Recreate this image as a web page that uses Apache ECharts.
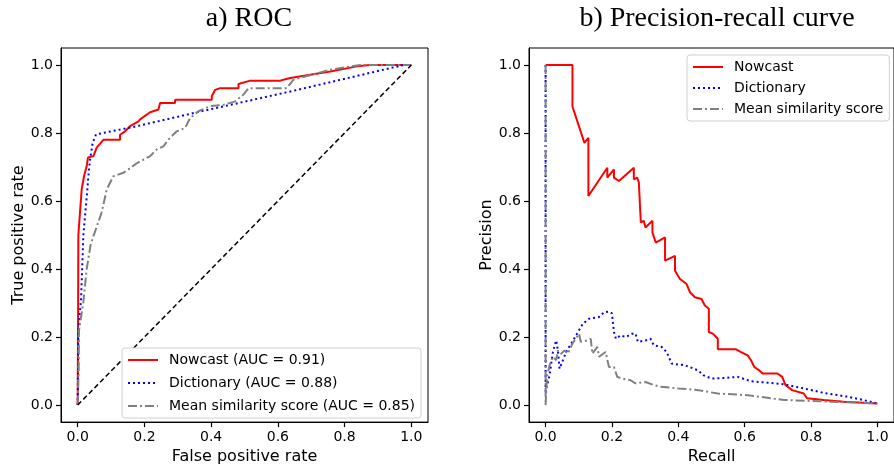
<!DOCTYPE html>
<html>
<head>
<meta charset="utf-8">
<script src="https://cdn.jsdelivr.net/npm/echarts@6/dist/echarts.min.js"></script>
<style>
  html, body { margin: 0; padding: 0; background: #fff; }
  #chart { width: 894px; height: 470px; }
</style>
</head>
<body>
<div id="chart"></div>
<script>
// tick labels
const ticks = [0, 0.2, 0.4, 0.6, 0.8, 1.0]

// a) ROC curves, [false positive rate, true positive rate]
const rocNowcast = [
  [0, 0], [0.001, 0.2], [0.002, 0.5], [0.012, 0.634], [0.019, 0.673], [0.027, 0.703],
  [0.031, 0.728], [0.047, 0.732], [0.057, 0.757], [0.077, 0.78], [0.127, 0.78],
  [0.127, 0.795], [0.142, 0.805], [0.157, 0.82], [0.182, 0.834], [0.187, 0.84],
  [0.217, 0.861], [0.242, 0.869], [0.247, 0.888], [0.292, 0.888], [0.292, 0.898],
  [0.402, 0.898], [0.402, 0.908], [0.412, 0.927], [0.427, 0.932], [0.482, 0.932],
  [0.482, 0.944], [0.517, 0.954], [0.607, 0.954], [0.637, 0.962], [0.757, 0.981],
  [0.837, 0.996], [0.877, 1.0], [1.0, 1.0]
]
const rocDictionary = [
  [0, 0], [0.002, 0.22], [0.01, 0.31], [0.017, 0.5], [0.029, 0.634], [0.032, 0.673],
  [0.037, 0.722], [0.045, 0.771], [0.055, 0.796], [0.177, 0.82], [0.362, 0.862],
  [0.637, 0.922], [0.977, 1.0], [1.0, 1.0]
]
const rocMeanSim = [
  [0, 0], [0.003, 0.1], [0.004, 0.22], [0.009, 0.216], [0.017, 0.303], [0.027, 0.4],
  [0.039, 0.473], [0.072, 0.567], [0.087, 0.634], [0.107, 0.673], [0.137, 0.683],
  [0.152, 0.693], [0.177, 0.711], [0.217, 0.732], [0.237, 0.752], [0.257, 0.761],
  [0.272, 0.781], [0.297, 0.805], [0.322, 0.815], [0.337, 0.844], [0.362, 0.864],
  [0.397, 0.879], [0.437, 0.883], [0.472, 0.893], [0.497, 0.913], [0.512, 0.932],
  [0.627, 0.932], [0.647, 0.957], [0.757, 0.986], [0.847, 1.0], [1.0, 1.0]
]
const chanceLine = [[0, 0], [1, 1]]

// b) precision-recall curves, [recall, precision]
const prNowcast = [
  [0, 1.0], [0.081, 1.0], [0.081, 0.878], [0.117, 0.771], [0.129, 0.786], [0.129, 0.615],
  [0.186, 0.698], [0.186, 0.669], [0.206, 0.693], [0.206, 0.669], [0.221, 0.659],
  [0.266, 0.698], [0.266, 0.664], [0.276, 0.669], [0.281, 0.655], [0.287, 0.655],
  [0.287, 0.537], [0.296, 0.542], [0.301, 0.522], [0.322, 0.542], [0.322, 0.508],
  [0.332, 0.478], [0.36, 0.493], [0.36, 0.425], [0.39, 0.439], [0.39, 0.395],
  [0.405, 0.371], [0.425, 0.356], [0.435, 0.332], [0.45, 0.317], [0.47, 0.312],
  [0.48, 0.293], [0.492, 0.283], [0.492, 0.215], [0.504, 0.21], [0.519, 0.195],
  [0.519, 0.164], [0.574, 0.164], [0.589, 0.156], [0.609, 0.146], [0.619, 0.132],
  [0.629, 0.112], [0.644, 0.102], [0.654, 0.093], [0.699, 0.093], [0.713, 0.083],
  [0.723, 0.059], [0.743, 0.044], [0.778, 0.034], [0.788, 0.02], [0.838, 0.015],
  [0.898, 0.01], [1.0, 0.005]
]
const prDictionary = [
  [0, 1.0], [0, 0.04], [0.012, 0.088], [0.022, 0.156], [0.032, 0.19], [0.037, 0.161],
  [0.042, 0.107], [0.062, 0.156], [0.092, 0.205], [0.112, 0.239], [0.131, 0.254],
  [0.161, 0.259], [0.176, 0.273], [0.191, 0.275], [0.2, 0.27], [0.206, 0.215],
  [0.212, 0.195], [0.226, 0.205], [0.241, 0.2], [0.261, 0.21], [0.271, 0.21],
  [0.278, 0.186], [0.301, 0.19], [0.316, 0.195], [0.326, 0.176], [0.35, 0.171],
  [0.365, 0.156], [0.38, 0.122], [0.42, 0.117], [0.46, 0.102], [0.475, 0.088],
  [0.5, 0.078], [0.544, 0.08], [0.579, 0.083], [0.619, 0.07], [0.669, 0.066],
  [0.719, 0.061], [0.778, 0.049], [0.838, 0.036], [0.907, 0.025], [0.957, 0.015],
  [1.0, 0.005]
]
const prMeanSim = [
  [0, 1.0], [0, 0.0], [0.004, 0.083], [0.012, 0.117], [0.022, 0.142], [0.032, 0.132],
  [0.037, 0.161], [0.047, 0.151], [0.057, 0.161], [0.067, 0.151], [0.081, 0.181],
  [0.101, 0.21], [0.106, 0.186], [0.126, 0.19], [0.136, 0.195], [0.141, 0.151],
  [0.156, 0.171], [0.161, 0.142], [0.181, 0.156], [0.191, 0.112], [0.206, 0.112],
  [0.216, 0.083], [0.231, 0.078], [0.256, 0.073], [0.271, 0.064], [0.301, 0.068],
  [0.326, 0.059], [0.345, 0.054], [0.4, 0.049], [0.46, 0.044], [0.519, 0.034],
  [0.609, 0.029], [0.719, 0.015], [0.858, 0.01], [1.0, 0.005]
]

const font = 'DejaVu Sans'

// axis helper: matplotlib-style frame with 5% padding
function makeAxis(gridIndex, name, isY) {
  return {
    type: 'value',
    gridIndex: gridIndex,
    min: -0.05,
    max: 1.05,
    name: name,
    nameLocation: 'middle',
    nameGap: isY ? 34 : 26,
    nameTextStyle: { fontFamily: font, fontSize: 16, color: '#000' },
    splitLine: { show: false },
    axisLine: { show: true, onZero: false, lineStyle: { color: '#000', width: 1 } },
    axisTick: {
      show: true,
      inside: false,
      length: 5,
      customValues: ticks,
      lineStyle: { color: '#000', width: 1.2 }
    },
    axisLabel: {
      customValues: ticks,
      margin: 8,
      fontFamily: font,
      fontSize: 14,
      color: '#000',
      formatter: v => v.toFixed(1)
    }
  }
}

function lineSeries(name, data, color, type, xi, width) {
  return {
    name: name,
    type: 'line',
    xAxisIndex: xi,
    yAxisIndex: xi,
    data: data,
    symbol: 'none',
    showSymbol: false,
    silent: true,
    lineStyle: { color: color, width: width || 2, type: type, cap: 'butt' },
    itemStyle: { color: color }
  }
}

function legendBox(names, left, top, gap) {
  return {
    data: names,
    orient: 'vertical',
    left: left,
    top: top,
    itemWidth: 30,
    itemHeight: 12,
    itemGap: gap,
    padding: [5, 6, 5, 5],
    backgroundColor: '#fff',
    borderColor: '#d0d0d0',
    borderWidth: 1,
    borderRadius: 3,
    selectedMode: false,
    itemStyle: { opacity: 0 },
    textStyle: { fontFamily: font, fontSize: 14, color: '#000', padding: [0, 0, 0, 6] }
  }
}

const chart = echarts.init(document.getElementById('chart'), null, { renderer: 'canvas' })

const option = {
  animation: false,
  backgroundColor: '#fff',
  title: [
    {
      text: 'a) ROC',
      left: 244,
      top: 0,
      textAlign: 'center',
      textStyle: { fontFamily: 'Liberation Serif', fontSize: 28, fontWeight: 'normal', color: '#000' }
    },
    {
      text: 'b) Precision-recall curve',
      left: 712,
      top: 0,
      textAlign: 'center',
      textStyle: { fontFamily: 'Liberation Serif', fontSize: 28, fontWeight: 'normal', color: '#000' }
    }
  ],
  grid: [
    { left: 61, top: 48, width: 367, height: 376, show: true, borderColor: '#000', borderWidth: 1, backgroundColor: 'transparent' },
    { left: 529, top: 48, width: 368, height: 376, show: true, borderColor: '#000', borderWidth: 1, backgroundColor: 'transparent' }
  ],
  xAxis: [
    makeAxis(0, 'False positive rate', false),
    makeAxis(1, 'Recall', false)
  ],
  yAxis: [
    makeAxis(0, 'True positive rate', true),
    makeAxis(1, 'Precision', true)
  ],
  legend: [
    legendBox(['Nowcast (AUC = 0.91)', 'Dictionary (AUC = 0.88)', 'Mean similarity score (AUC = 0.85)'], 122, 348, 9),
    legendBox(['Nowcast', 'Dictionary', 'Mean similarity score'], 687, 55, 7)
  ],
  series: [
    lineSeries('Nowcast (AUC = 0.91)', rocNowcast, '#ff0000', 'solid', 0),
    lineSeries('Dictionary (AUC = 0.88)', rocDictionary, '#0000ff', [2, 3], 0),
    lineSeries('Mean similarity score (AUC = 0.85)', rocMeanSim, '#808080', [9, 3, 2, 3], 0),
    lineSeries('chance', chanceLine, '#000000', [5, 3], 0, 1.5),
    lineSeries('Nowcast', prNowcast, '#ff0000', 'solid', 1),
    lineSeries('Dictionary', prDictionary, '#0000ff', [2, 3], 1),
    lineSeries('Mean similarity score', prMeanSim, '#808080', [9, 3, 2, 3], 1)
  ]
}

chart.setOption(option)
</script>
</body>
</html>
